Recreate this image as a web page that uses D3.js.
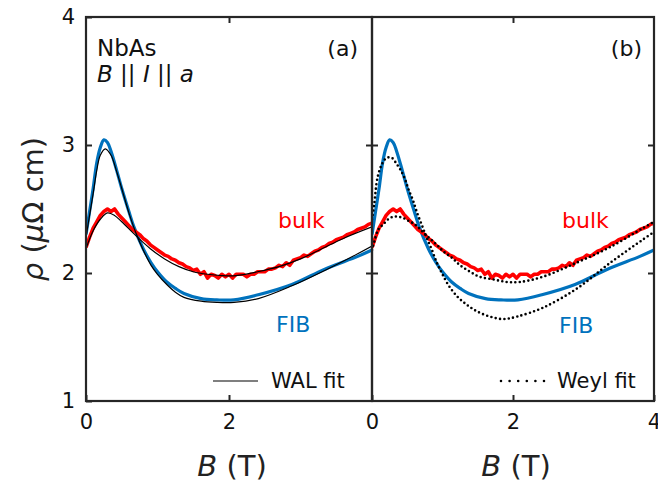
<!DOCTYPE html>
<html>
<head>
<meta charset="utf-8">
<script src="https://cdn.jsdelivr.net/npm/d3@7"></script>
<style>
  body { margin: 0; background: #fff; }
  text { font-family: "DejaVu Sans", sans-serif; }
</style>
</head>
<body>
<div id="chart"></div>
<script>
// FIB sample (blue)
const fibB   = [0, 0.05, 0.1, 0.15, 0.2, 0.25, 0.3, 0.35, 0.43, 0.5, 0.6, 0.67, 0.8, 0.91, 1.0, 1.13, 1.25, 1.37, 1.61, 1.83, 2.07, 2.41, 2.88, 3.34, 3.8, 4.0];
const fibRho = [2.30, 2.48, 2.66, 2.86, 2.98, 3.04, 3.02, 2.95, 2.80, 2.66, 2.48, 2.36, 2.19, 2.08, 2.01, 1.93, 1.88, 1.84, 1.80, 1.79, 1.79, 1.83, 1.91, 2.03, 2.13, 2.18];

// bulk sample (red), stepped data
const bulkB = [0, 0.05, 0.1, 0.15, 0.2, 0.25, 0.3, 0.35, 0.4, 0.45, 0.5, 0.55, 0.6, 0.65, 0.7, 0.75, 0.8, 0.85, 0.9, 0.95,
  1.0, 1.05, 1.1, 1.15, 1.2, 1.25, 1.3, 1.35, 1.4, 1.45, 1.5, 1.55, 1.6, 1.65, 1.7, 1.75, 1.8, 1.85, 1.9, 1.95,
  2.0, 2.05, 2.1, 2.15, 2.2, 2.25, 2.3, 2.35, 2.4, 2.45, 2.5, 2.55, 2.6, 2.65, 2.7, 2.75, 2.8, 2.85, 2.9, 2.95,
  3.0, 3.05, 3.1, 3.15, 3.2, 3.25, 3.3, 3.35, 3.4, 3.45, 3.5, 3.55, 3.6, 3.65, 3.7, 3.75, 3.8, 3.85, 3.9, 3.95, 4.0];
const bulkRho = [2.20, 2.28, 2.35, 2.40, 2.45, 2.48, 2.50, 2.48, 2.50, 2.46, 2.43, 2.40, 2.37, 2.34, 2.32, 2.30, 2.27, 2.25, 2.22, 2.20,
  2.18, 2.16, 2.14, 2.13, 2.11, 2.10, 2.08, 2.07, 2.05, 2.04, 2.02, 2.03, 1.99, 2.01, 1.96, 1.99, 1.98, 1.96, 1.99, 1.97,
  1.99, 1.96, 1.99, 1.99, 1.99, 1.97, 1.99, 1.99, 2.01, 2.01, 2.01, 2.03, 2.03, 2.04, 2.06, 2.05, 2.08, 2.06, 2.10, 2.11,
  2.12, 2.14, 2.13, 2.15, 2.17, 2.18, 2.20, 2.21, 2.23, 2.24, 2.26, 2.27, 2.28, 2.30, 2.31, 2.32, 2.34, 2.35, 2.36, 2.38, 2.39];

// WAL fits (panel a, thin black)
const walFibB   = [0, 0.05, 0.1, 0.15, 0.2, 0.27, 0.35, 0.43, 0.5, 0.6, 0.7, 0.8, 0.91, 1.0, 1.13, 1.25, 1.37, 1.61, 1.83, 2.07, 2.41, 2.88, 3.34, 3.8, 4.0];
const walFibRho = [2.28, 2.45, 2.62, 2.80, 2.92, 2.97, 2.92, 2.79, 2.66, 2.47, 2.31, 2.18, 2.06, 1.99, 1.91, 1.85, 1.81, 1.78, 1.77, 1.77, 1.80, 1.90, 2.02, 2.15, 2.21];
const walBulkB   = [0, 0.1, 0.2, 0.3, 0.4, 0.5, 0.7, 0.9, 1.1, 1.3, 1.5, 1.7, 1.9, 2.1, 2.4, 2.7, 3.0, 3.3, 3.6, 4.0];
const walBulkRho = [2.19, 2.33, 2.42, 2.47, 2.45, 2.40, 2.29, 2.19, 2.11, 2.05, 2.01, 1.99, 1.98, 1.98, 2.01, 2.05, 2.11, 2.19, 2.27, 2.36];

// Weyl fits (panel b, dotted)
const weylFibB   = [0, 0.03, 0.08, 0.15, 0.21, 0.28, 0.34, 0.41, 0.47, 0.52, 0.58, 0.64, 0.71, 0.78, 0.85, 0.92, 0.99, 1.09, 1.22, 1.35, 1.49, 1.67, 1.86, 2.06, 2.43, 2.91, 3.38, 3.84, 4.0];
const weylFibRho = [2.42, 2.53, 2.75, 2.86, 2.90, 2.90, 2.86, 2.80, 2.73, 2.65, 2.57, 2.47, 2.37, 2.27, 2.18, 2.08, 2.00, 1.90, 1.81, 1.75, 1.70, 1.66, 1.64, 1.66, 1.73, 1.88, 2.08, 2.26, 2.32];
const weylBulkB   = [0, 0.03, 0.09, 0.16, 0.23, 0.30, 0.37, 0.44, 0.51, 0.58, 0.65, 0.72, 0.82, 0.92, 1.01, 1.13, 1.25, 1.39, 1.53, 1.72, 1.91, 2.1, 2.42, 2.9, 3.37, 3.84, 4.0];
const weylBulkRho = [2.18, 2.24, 2.34, 2.38, 2.42, 2.44, 2.44, 2.43, 2.41, 2.39, 2.36, 2.32, 2.27, 2.22, 2.17, 2.12, 2.06, 2.01, 1.97, 1.95, 1.93, 1.93, 1.97, 2.08, 2.20, 2.35, 2.40];

const yTickVals = [1, 2, 3, 4];
const xTicksA = [0, 2];
const xTicksB = [0, 2, 4];

const frameColor = "#262626";
const blue = "#0072bd";
const red = "#ff0000";

const zip = (bs, rs) => bs.map((b, i) => [b, rs[i]]);

const svg = d3.select("#chart").append("svg")
  .attr("width", 658)
  .attr("height", 483);

svg.append("rect").attr("width", 658).attr("height", 483).attr("fill", "#fff");

const y = d3.scaleLinear().domain([1, 4]).range([401, 17]);
const xA = d3.scaleLinear().domain([0, 4]).range([86, 372]);
const xB = d3.scaleLinear().domain([0, 4]).range([372, 654]);

function panel(id, x) {
  const [x0, x1] = x.range();
  const g = svg.append("g");
  svg.append("clipPath").attr("id", id)
    .append("rect")
    .attr("x", x0).attr("y", y(4))
    .attr("width", x1 - x0).attr("height", y(1) - y(4));
  const plot = g.append("g").attr("clip-path", `url(#${id})`);
  return { g, plot };
}

function styleAxis(sel, size) {
  sel.select(".domain").remove();
  sel.selectAll("line").attr("stroke", frameColor).attr("stroke-width", 2);
  sel.selectAll("text")
    .attr("fill", "#111")
    .style("font-size", size + "px")
    .style("font-family", '"DejaVu Sans", sans-serif');
}

function drawFrame(g, x, showY, xTicks) {
  const [x0, x1] = x.range();

  g.append("g").attr("transform", `translate(0,${y(1)})`)
    .call(d3.axisBottom(x).tickValues(xTicks).tickSizeInner(-6).tickSizeOuter(0).tickPadding(13).tickFormat(d3.format("d")))
    .call(s => styleAxis(s, 21));

  g.append("g").attr("transform", `translate(0,${y(4)})`)
    .call(d3.axisTop(x).tickValues([2]).tickSizeInner(-6).tickSizeOuter(0).tickFormat(""))
    .call(s => styleAxis(s, 21));

  g.append("g").attr("transform", `translate(${x0},0)`)
    .call(d3.axisLeft(y).tickValues(showY ? yTickVals : [2, 3]).tickSizeInner(-6).tickSizeOuter(0).tickPadding(11)
      .tickFormat(showY ? d3.format("d") : ""))
    .call(s => styleAxis(s, 21));

  g.append("g").attr("transform", `translate(${x1},0)`)
    .call(d3.axisRight(y).tickValues([2, 3]).tickSizeInner(-6).tickSizeOuter(0).tickFormat(""))
    .call(s => styleAxis(s, 21));

  g.append("rect")
    .attr("x", x0).attr("y", y(4))
    .attr("width", x1 - x0).attr("height", y(1) - y(4))
    .attr("fill", "none")
    .attr("stroke", frameColor)
    .attr("stroke-width", 2.2);
}

function addLine(plot, x, pts, color, width, curve, dash) {
  const line = d3.line().x(d => x(d[0])).y(d => y(d[1])).curve(curve);
  const p = plot.append("path")
    .datum(pts)
    .attr("d", line)
    .attr("fill", "none")
    .attr("stroke", color)
    .attr("stroke-width", width)
    .attr("stroke-linejoin", "round");
  if (dash) {
    p.attr("stroke-dasharray", dash).attr("stroke-linecap", "round");
  }
  return p;
}

function label(g, x, yy, txt, color, size, anchor) {
  return g.append("text")
    .attr("x", x).attr("y", yy)
    .attr("fill", color)
    .attr("text-anchor", anchor || "start")
    .style("font-size", size + "px")
    .text(txt);
}

/* ---------- panel (a) ---------- */
const pa = panel("clipA", xA);
addLine(pa.plot, xA, zip(fibB, fibRho), blue, 3.2, d3.curveCatmullRom);
addLine(pa.plot, xA, zip(bulkB, bulkRho), red, 3.6, d3.curveLinear);
addLine(pa.plot, xA, zip(walFibB, walFibRho), "#000", 1.2, d3.curveCatmullRom);
addLine(pa.plot, xA, zip(walBulkB, walBulkRho), "#000", 1.2, d3.curveCatmullRom);

label(pa.g, 97, 56, "NbAs", "#111", 23);
const cond = pa.g.append("text").attr("x", 97).attr("y", 82).attr("fill", "#111").style("font-size", "23px");
cond.append("tspan").style("font-style", "italic").text("B");
cond.append("tspan").text(" || ");
cond.append("tspan").style("font-style", "italic").text("I");
cond.append("tspan").text(" || ");
cond.append("tspan").style("font-style", "italic").text("a");
label(pa.g, 358, 56, "(a)", "#111", 22, "end");
label(pa.g, 278, 228, "bulk", red, 22);
label(pa.g, 276, 332, "FIB", blue, 22);

pa.g.append("line")
  .attr("x1", 213).attr("x2", 258).attr("y1", 381).attr("y2", 381)
  .attr("stroke", "#000").attr("stroke-width", 1.2);
label(pa.g, 271, 388, "WAL fit", "#111", 21);

/* ---------- panel (b) ---------- */
const pb = panel("clipB", xB);
addLine(pb.plot, xB, zip(fibB, fibRho), blue, 3.2, d3.curveCatmullRom);
addLine(pb.plot, xB, zip(bulkB, bulkRho), red, 3.6, d3.curveLinear);
addLine(pb.plot, xB, zip(weylFibB, weylFibRho), "#000", 2.6, d3.curveCatmullRom, "0 4.4");
addLine(pb.plot, xB, zip(weylBulkB, weylBulkRho), "#000", 2.6, d3.curveCatmullRom, "0 4.4");

label(pb.g, 642, 56, "(b)", "#111", 22, "end");
label(pb.g, 562, 228, "bulk", red, 22);
label(pb.g, 559, 333, "FIB", blue, 22);

pb.g.append("line")
  .attr("x1", 501).attr("x2", 545).attr("y1", 381).attr("y2", 381)
  .attr("stroke", "#000").attr("stroke-width", 2.6)
  .attr("stroke-linecap", "round").attr("stroke-dasharray", "0 8.6");
label(pb.g, 557, 388, "Weyl fit", "#111", 21);

/* frames drawn last so they sit on top of the curves */
drawFrame(pa.g, xA, true, xTicksA);
drawFrame(pb.g, xB, false, xTicksB);

/* ---------- axis titles ---------- */
const xt = [xA, xB];
xt.forEach(x => {
  const t = svg.append("text")
    .attr("x", (x.range()[0] + x.range()[1]) / 2 + 3)
    .attr("y", 476)
    .attr("text-anchor", "middle")
    .attr("fill", "#222")
    .style("font-size", "29px");
  t.append("tspan").style("font-style", "italic").text("B");
  t.append("tspan").text(" (T)");
});

const yt = svg.append("text")
  .attr("transform", `translate(43,${(y(1) + y(4)) / 2}) rotate(-90)`)
  .attr("text-anchor", "middle")
  .attr("fill", "#222")
  .style("font-size", "29px");
yt.append("tspan").style("font-style", "italic").text("ρ");
yt.append("tspan").text(" (");
yt.append("tspan").style("font-style", "italic").text("μ");
yt.append("tspan").text("Ω cm)");
</script>
</body>
</html>
